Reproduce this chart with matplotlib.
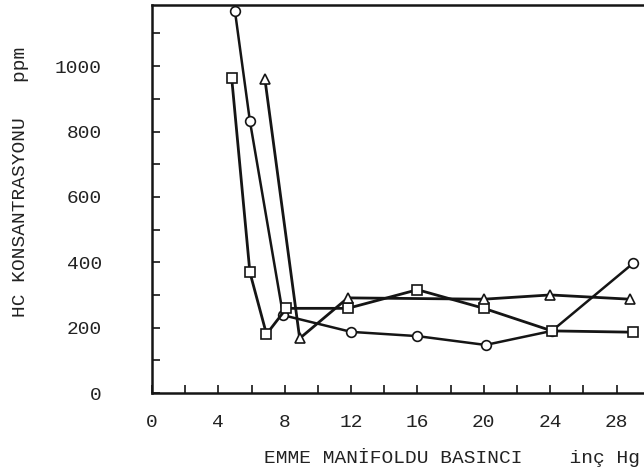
import matplotlib
matplotlib.use("Agg")
import matplotlib.pyplot as plt
from matplotlib.ticker import MultipleLocator

# Data
circle_x = [5.0, 5.9, 7.9, 12.0, 16.0, 20.1, 24.1, 29.0]
circle_y = [1168, 832, 238, 187, 174, 147, 190, 397]

square_x = [4.8, 5.9, 6.9, 8.1, 11.8, 16.0, 20.0, 24.1, 29.0]
square_y = [965, 369, 180, 259, 259, 316, 259, 190, 186]

tri_x = [6.8, 8.9, 11.8, 20.0, 24.0, 28.8]
tri_y = [962, 167, 291, 287, 300, 287]

x_ticks = [0, 4, 8, 12, 16, 20, 24, 28]
y_ticks = [0, 200, 400, 600, 800, 1000]

xlabel = "EMME MANİFOLDU BASINCI    inç Hg"
ylabel = "HC KONSANTRASYONU   ppm"

plt.rcParams['font.family'] = ['Liberation Mono', 'DejaVu Sans Mono']
FS = 14

fig = plt.figure(figsize=(6.44, 4.71), dpi=100)
ax = fig.add_axes([152/644, 78/471, (644-152)/644, (393-5)/471])

kw = dict(color='#151515', markerfacecolor='white', markeredgecolor='#151515',
          markersize=7, markeredgewidth=1.2, clip_on=False)
ax.plot(circle_x, circle_y, marker='o', lw=1.8, **kw)
ax.plot(square_x, square_y, marker='s', lw=2.0, **kw)
ax.plot(tri_x, tri_y, marker='^', lw=2.0, **kw)

ax.set_xlim(0, 29.65)
ax.set_ylim(0, 1187)
ax.set_xticks(x_ticks)
ax.set_yticks(y_ticks)
ax.xaxis.set_minor_locator(MultipleLocator(2))
ax.yaxis.set_minor_locator(MultipleLocator(100))

ax.tick_params(axis='both', which='both', direction='in', length=6, width=1.2,
               color='#151515', labelsize=FS, labelcolor='#222222')
ax.tick_params(axis='y', which='both', pad=36)
ax.tick_params(axis='x', which='both', pad=15)

for s in ['left', 'bottom', 'top']:
    ax.spines[s].set_linewidth(1.8)
    ax.spines[s].set_color('#151515')
ax.spines['right'].set_visible(False)

ax.set_xlabel(xlabel, fontsize=FS, color='#222222', ha='right', va='center')
ax.xaxis.set_label_coords(0.992, -0.165)
ax.set_ylabel(ylabel, fontsize=FS, color='#222222', ha='center', va='center')
ax.yaxis.set_label_coords(-0.268, 0.544)

fig.savefig("out.png", dpi=100)
